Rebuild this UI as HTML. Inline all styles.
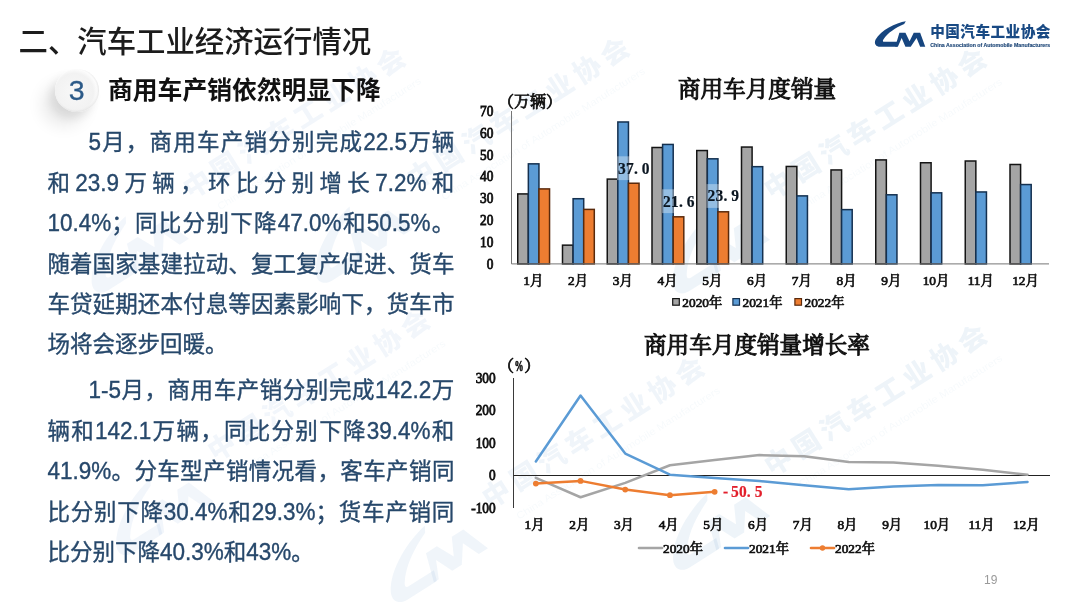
<!DOCTYPE html>
<html lang="zh-CN">
<head>
<meta charset="utf-8">
<title>二、汽车工业经济运行情况</title>
<style>
html,body{margin:0;padding:0;background:#fff;}
body{width:1080px;height:607px;overflow:hidden;position:relative;font-family:'Liberation Sans','Noto Sans CJK SC',sans-serif;}
.slide{position:absolute;left:0;top:0;width:1080px;height:607px;overflow:hidden;background:#fff;}
.charts{position:absolute;left:0;top:0;}
.logo{position:absolute;left:0;top:0;}
.wm{position:absolute;left:0;top:0;}
h1{position:absolute;left:18.5px;top:22.7px;margin:0;font-size:29.4px;line-height:38px;font-weight:500;color:#1c1c1c;white-space:nowrap;}
h2{position:absolute;left:108px;top:72px;margin:0;font-size:24.8px;line-height:38px;font-weight:700;color:#111;white-space:nowrap;}
.num{position:absolute;left:54.5px;top:68.5px;width:44.5px;height:43px;border-radius:50%;background:radial-gradient(circle at 44% 54%,#f8f8f8 0%,#f2f2f2 56%,#fcfcfc 68%,#ebebeb 86%,#dcdcdc 100%);box-shadow:-13px 14px 16px rgba(0,0,0,.085),-5px 6px 8px rgba(0,0,0,.075),inset -1px -1px 2px rgba(0,0,0,.07);color:#2c5a88;font-size:28.5px;line-height:42.5px;text-align:center;-webkit-text-stroke:0.3px #2c5a88;}
.para{position:absolute;left:47.4px;width:407px;margin:0;font-size:22.5px;line-height:40.45px;color:#27486b;-webkit-text-stroke:0.35px #27486b;}
.ln{display:block;white-space:nowrap;height:40.45px;}
.ln.j{text-align:justify;text-align-last:justify;}
.ln.ind{padding-left:41px;}
.d{display:inline-block;transform:scaleY(1.08);transform-origin:50% 71%;}
.pg{position:absolute;left:984px;top:573px;font-size:12px;line-height:14px;color:#9a9a9a;}
</style>
</head>
<body>
<div class="slide">
<svg class="wm" width="1080" height="607" viewBox="0 0 1080 607"><g transform="translate(390.4 61.6) rotate(-32.3) scale(2.17) translate(-1043 -31.5)" fill="#2a6db5" fill-opacity="0.06"><g transform="translate(-3.4 5.5)"><path d="M905.2,21.1 C895.5,22.6 880.5,29.5 875.6,38.6 C873.6,42.6 876,45.6 880.2,45.6 L896.3,45.6 L897.8,40.7 L884.2,40.7 C882.6,40.7 882.3,39.9 883.2,38.5 C887.5,32.2 895,27.6 903.6,23.9 Z"/><path d="M894.81,45.41 L898.89,32.07 L904.81,32.07 L908.89,40.22 L912.96,32.07 L919.26,32.07 L924.26,45.41 L919.26,45.41 L915.74,37.26 L910,45.41 L904.81,45.41 L901.11,37.26 L897.41,45.41Z"/></g><text x="931.3" y="36.2" font-family="'Liberation Sans','Noto Sans CJK SC',sans-serif" font-weight="900" font-size="12.6" textLength="118.1" lengthAdjust="spacing">中国汽车工业协会</text><text x="940" y="47.5" font-family="'Liberation Sans','Noto Sans CJK SC',sans-serif" font-weight="400" font-size="4.6" fill-opacity="0.035" textLength="110" lengthAdjust="spacingAndGlyphs">China Association of Automobile Manufacturers</text></g>
<g transform="translate(614.4 51.8) rotate(-32.3) scale(2.17) translate(-1043 -31.5)" fill="#2a6db5" fill-opacity="0.07"><g transform="translate(-3.4 5.5)"><path d="M905.2,21.1 C895.5,22.6 880.5,29.5 875.6,38.6 C873.6,42.6 876,45.6 880.2,45.6 L896.3,45.6 L897.8,40.7 L884.2,40.7 C882.6,40.7 882.3,39.9 883.2,38.5 C887.5,32.2 895,27.6 903.6,23.9 Z"/><path d="M894.81,45.41 L898.89,32.07 L904.81,32.07 L908.89,40.22 L912.96,32.07 L919.26,32.07 L924.26,45.41 L919.26,45.41 L915.74,37.26 L910,45.41 L904.81,45.41 L901.11,37.26 L897.41,45.41Z"/></g><text x="931.3" y="36.2" font-family="'Liberation Sans','Noto Sans CJK SC',sans-serif" font-weight="900" font-size="12.6" textLength="118.1" lengthAdjust="spacing">中国汽车工业协会</text><text x="940" y="47.5" font-family="'Liberation Sans','Noto Sans CJK SC',sans-serif" font-weight="400" font-size="4.6" fill-opacity="0.035" textLength="110" lengthAdjust="spacingAndGlyphs">China Association of Automobile Manufacturers</text></g>
<g transform="translate(971.5 62.4) rotate(-32.3) scale(2.17) translate(-1043 -31.5)" fill="#2a6db5" fill-opacity="0.08"><g transform="translate(-3.4 5.5)"><path d="M905.2,21.1 C895.5,22.6 880.5,29.5 875.6,38.6 C873.6,42.6 876,45.6 880.2,45.6 L896.3,45.6 L897.8,40.7 L884.2,40.7 C882.6,40.7 882.3,39.9 883.2,38.5 C887.5,32.2 895,27.6 903.6,23.9 Z"/><path d="M894.81,45.41 L898.89,32.07 L904.81,32.07 L908.89,40.22 L912.96,32.07 L919.26,32.07 L924.26,45.41 L919.26,45.41 L915.74,37.26 L910,45.41 L904.81,45.41 L901.11,37.26 L897.41,45.41Z"/></g><text x="931.3" y="36.2" font-family="'Liberation Sans','Noto Sans CJK SC',sans-serif" font-weight="900" font-size="12.6" textLength="118.1" lengthAdjust="spacing">中国汽车工业协会</text><text x="940" y="47.5" font-family="'Liberation Sans','Noto Sans CJK SC',sans-serif" font-weight="400" font-size="4.6" fill-opacity="0.035" textLength="110" lengthAdjust="spacingAndGlyphs">China Association of Automobile Manufacturers</text></g>
<g transform="translate(415 324) rotate(-32.3) scale(2.17) translate(-1043 -31.5)" fill="#2a6db5" fill-opacity="0.06"><g transform="translate(-3.4 5.5)"><path d="M905.2,21.1 C895.5,22.6 880.5,29.5 875.6,38.6 C873.6,42.6 876,45.6 880.2,45.6 L896.3,45.6 L897.8,40.7 L884.2,40.7 C882.6,40.7 882.3,39.9 883.2,38.5 C887.5,32.2 895,27.6 903.6,23.9 Z"/><path d="M894.81,45.41 L898.89,32.07 L904.81,32.07 L908.89,40.22 L912.96,32.07 L919.26,32.07 L924.26,45.41 L919.26,45.41 L915.74,37.26 L910,45.41 L904.81,45.41 L901.11,37.26 L897.41,45.41Z"/></g><text x="931.3" y="36.2" font-family="'Liberation Sans','Noto Sans CJK SC',sans-serif" font-weight="900" font-size="12.6" textLength="118.1" lengthAdjust="spacing">中国汽车工业协会</text><text x="940" y="47.5" font-family="'Liberation Sans','Noto Sans CJK SC',sans-serif" font-weight="400" font-size="4.6" fill-opacity="0.035" textLength="110" lengthAdjust="spacingAndGlyphs">China Association of Automobile Manufacturers</text></g>
<g transform="translate(689.5 371) rotate(-32.3) scale(2.17) translate(-1043 -31.5)" fill="#2a6db5" fill-opacity="0.07"><g transform="translate(-3.4 5.5)"><path d="M905.2,21.1 C895.5,22.6 880.5,29.5 875.6,38.6 C873.6,42.6 876,45.6 880.2,45.6 L896.3,45.6 L897.8,40.7 L884.2,40.7 C882.6,40.7 882.3,39.9 883.2,38.5 C887.5,32.2 895,27.6 903.6,23.9 Z"/><path d="M894.81,45.41 L898.89,32.07 L904.81,32.07 L908.89,40.22 L912.96,32.07 L919.26,32.07 L924.26,45.41 L919.26,45.41 L915.74,37.26 L910,45.41 L904.81,45.41 L901.11,37.26 L897.41,45.41Z"/></g><text x="931.3" y="36.2" font-family="'Liberation Sans','Noto Sans CJK SC',sans-serif" font-weight="900" font-size="12.6" textLength="118.1" lengthAdjust="spacing">中国汽车工业协会</text><text x="940" y="47.5" font-family="'Liberation Sans','Noto Sans CJK SC',sans-serif" font-weight="400" font-size="4.6" fill-opacity="0.035" textLength="110" lengthAdjust="spacingAndGlyphs">China Association of Automobile Manufacturers</text></g>
<g transform="translate(971.8 338.8) rotate(-32.3) scale(2.17) translate(-1043 -31.5)" fill="#2a6db5" fill-opacity="0.08"><g transform="translate(-3.4 5.5)"><path d="M905.2,21.1 C895.5,22.6 880.5,29.5 875.6,38.6 C873.6,42.6 876,45.6 880.2,45.6 L896.3,45.6 L897.8,40.7 L884.2,40.7 C882.6,40.7 882.3,39.9 883.2,38.5 C887.5,32.2 895,27.6 903.6,23.9 Z"/><path d="M894.81,45.41 L898.89,32.07 L904.81,32.07 L908.89,40.22 L912.96,32.07 L919.26,32.07 L924.26,45.41 L919.26,45.41 L915.74,37.26 L910,45.41 L904.81,45.41 L901.11,37.26 L897.41,45.41Z"/></g><text x="931.3" y="36.2" font-family="'Liberation Sans','Noto Sans CJK SC',sans-serif" font-weight="900" font-size="12.6" textLength="118.1" lengthAdjust="spacing">中国汽车工业协会</text><text x="940" y="47.5" font-family="'Liberation Sans','Noto Sans CJK SC',sans-serif" font-weight="400" font-size="4.6" fill-opacity="0.035" textLength="110" lengthAdjust="spacingAndGlyphs">China Association of Automobile Manufacturers</text></g></svg>
<h1>二、汽车工业经济运行情况</h1>
<div class="num">3</div>
<h2>商用车产销依然明显下降</h2>
<p class="para" style="top:123.2px">
<span class="ln ind j"><span class="d">5</span>月，商用车产销分别完成<span class="d">22.5</span>万辆</span>
<span class="ln j">和<span class="d">23.9</span>万辆，环比分别增长<span class="d">7.2%</span>和</span>
<span class="ln j"><span class="d">10.4%</span>；同比分别下降<span class="d">47.0%</span>和<span class="d">50.5%</span>。</span>
<span class="ln j">随着国家基建拉动、复工复产促进、货车</span>
<span class="ln j">车贷延期还本付息等因素影响下，货车市</span>
<span class="ln">场将会逐步回暖。</span>
</p>
<p class="para" style="top:371.2px">
<span class="ln ind j"><span class="d">1-5</span>月，商用车产销分别完成<span class="d">142.2</span>万</span>
<span class="ln j">辆和<span class="d">142.1</span>万辆，同比分别下降<span class="d">39.4%</span>和</span>
<span class="ln j"><span class="d">41.9%</span>。分车型产销情况看，客车产销同</span>
<span class="ln j">比分别下降<span class="d">30.4%</span>和<span class="d">29.3%</span>；货车产销同</span>
<span class="ln">比分别下降<span class="d">40.3%</span>和<span class="d">43%</span>。</span>
</p>
<svg class="charts" width="1080" height="607" viewBox="0 0 1080 607">
<g stroke-width="1.5">
<rect x="517.75" y="193.92" width="10.6" height="69.98" fill="#a5a5a5" stroke="#141414"/>
<rect x="528.35" y="163.84" width="10.6" height="100.06" fill="#5b9bd5" stroke="#14304f"/>
<rect x="538.95" y="188.91" width="10.6" height="74.99" fill="#ed7d31" stroke="#5a2a0c"/>
<rect x="562.5" y="245.15" width="10.6" height="18.75" fill="#a5a5a5" stroke="#141414"/>
<rect x="573.1" y="198.72" width="10.6" height="65.18" fill="#5b9bd5" stroke="#14304f"/>
<rect x="583.7" y="209.4" width="10.6" height="54.5" fill="#ed7d31" stroke="#5a2a0c"/>
<rect x="607.25" y="179.1" width="10.6" height="84.8" fill="#a5a5a5" stroke="#141414"/>
<rect x="617.85" y="121.98" width="10.6" height="141.92" fill="#5b9bd5" stroke="#14304f"/>
<rect x="628.45" y="183.24" width="10.6" height="80.66" fill="#ed7d31" stroke="#5a2a0c"/>
<rect x="652" y="147.49" width="10.6" height="116.41" fill="#a5a5a5" stroke="#141414"/>
<rect x="662.6" y="144.44" width="10.6" height="119.46" fill="#5b9bd5" stroke="#14304f"/>
<rect x="673.2" y="216.81" width="10.6" height="47.09" fill="#ed7d31" stroke="#5a2a0c"/>
<rect x="696.75" y="150.54" width="10.6" height="113.36" fill="#a5a5a5" stroke="#141414"/>
<rect x="707.35" y="158.82" width="10.6" height="105.08" fill="#5b9bd5" stroke="#14304f"/>
<rect x="717.95" y="211.8" width="10.6" height="52.1" fill="#ed7d31" stroke="#5a2a0c"/>
<rect x="741.5" y="147.05" width="10.6" height="116.85" fill="#a5a5a5" stroke="#141414"/>
<rect x="752.1" y="166.67" width="10.6" height="97.23" fill="#5b9bd5" stroke="#14304f"/>
<rect x="786.25" y="166.45" width="10.6" height="97.45" fill="#a5a5a5" stroke="#141414"/>
<rect x="796.85" y="195.88" width="10.6" height="68.02" fill="#5b9bd5" stroke="#14304f"/>
<rect x="831" y="169.94" width="10.6" height="93.96" fill="#a5a5a5" stroke="#141414"/>
<rect x="841.6" y="209.62" width="10.6" height="54.28" fill="#5b9bd5" stroke="#14304f"/>
<rect x="875.75" y="159.91" width="10.6" height="103.99" fill="#a5a5a5" stroke="#141414"/>
<rect x="886.35" y="194.79" width="10.6" height="69.11" fill="#5b9bd5" stroke="#14304f"/>
<rect x="920.5" y="162.75" width="10.6" height="101.15" fill="#a5a5a5" stroke="#141414"/>
<rect x="931.1" y="192.83" width="10.6" height="71.07" fill="#5b9bd5" stroke="#14304f"/>
<rect x="965.25" y="161" width="10.6" height="102.9" fill="#a5a5a5" stroke="#141414"/>
<rect x="975.85" y="191.96" width="10.6" height="71.94" fill="#5b9bd5" stroke="#14304f"/>
<rect x="1010" y="164.49" width="10.6" height="99.41" fill="#a5a5a5" stroke="#141414"/>
<rect x="1020.6" y="184.55" width="10.6" height="79.35" fill="#5b9bd5" stroke="#14304f"/>
</g>
<path d="M511.5 111 V263.9 H1049" fill="none" stroke="#767676" stroke-width="1"/>
<g font-family="'Liberation Serif','Noto Serif CJK SC',serif" font-weight="400" font-size="13.33" fill="#111" stroke="#111" stroke-width="0.85" text-anchor="end">
<text transform="translate(493.3 268.6) scale(0.9 1)" font-size="14.8">0</text>
<text transform="translate(493.3 246.8) scale(0.9 1)" font-size="14.8">10</text>
<text transform="translate(493.3 225) scale(0.9 1)" font-size="14.8">20</text>
<text transform="translate(493.3 203.2) scale(0.9 1)" font-size="14.8">30</text>
<text transform="translate(493.3 181.4) scale(0.9 1)" font-size="14.8">40</text>
<text transform="translate(493.3 159.6) scale(0.9 1)" font-size="14.8">50</text>
<text transform="translate(493.3 137.8) scale(0.9 1)" font-size="14.8">60</text>
<text transform="translate(493.3 116) scale(0.9 1)" font-size="14.8">70</text>
</g>
<text x="498" y="107.2" font-family="'Liberation Serif','Noto Serif CJK SC',serif" font-weight="400" font-size="16" fill="#111" stroke="#111" stroke-width="0.8">（万辆）</text>
<g font-family="'Liberation Serif','Noto Serif CJK SC',serif" font-weight="400" font-size="13.33" fill="#111" stroke="#111" stroke-width="0.7" text-anchor="middle">
<text x="533.27" y="284.8">1月</text>
<text x="578.02" y="284.8">2月</text>
<text x="622.77" y="284.8">3月</text>
<text x="667.52" y="284.8">4月</text>
<text x="712.27" y="284.8">5月</text>
<text x="757.02" y="284.8">6月</text>
<text x="801.77" y="284.8">7月</text>
<text x="846.52" y="284.8">8月</text>
<text x="891.27" y="284.8">9月</text>
<text x="936.02" y="284.8">10月</text>
<text x="980.77" y="284.8">11月</text>
<text x="1025.53" y="284.8">12月</text>
</g>
<text x="757" y="97" font-family="'Liberation Serif','Noto Serif CJK SC',serif" font-weight="400" font-size="22.6" fill="#111" stroke="#111" stroke-width="1" text-anchor="middle">商用车月度销量</text>
<rect x="617" y="156.3" width="32.8" height="23.8" fill="#fff" fill-opacity="0.35"/>
<text transform="translate(618 173.5) scale(0.9 1)" x="0 8.83 17.67 26.5" y="0" font-family="'Liberation Serif','Noto Serif CJK SC',serif" font-weight="700" font-size="17.2" fill="#0a1520" stroke="#0a1520" stroke-width="0.2">37.0</text>
<rect x="662" y="189.3" width="32.8" height="23.8" fill="#fff" fill-opacity="0.35"/>
<text transform="translate(663 206.5) scale(0.9 1)" x="0 8.83 17.67 26.5" y="0" font-family="'Liberation Serif','Noto Serif CJK SC',serif" font-weight="700" font-size="17.2" fill="#0a1520" stroke="#0a1520" stroke-width="0.2">21.6</text>
<rect x="706.5" y="184.1" width="32.8" height="23.8" fill="#fff" fill-opacity="0.35"/>
<text transform="translate(707.5 201.3) scale(0.9 1)" x="0 8.83 17.67 26.5" y="0" font-family="'Liberation Serif','Noto Serif CJK SC',serif" font-weight="700" font-size="17.2" fill="#0a1520" stroke="#0a1520" stroke-width="0.2">23.9</text>
<rect x="672.7" y="298.6" width="6.6" height="6.6" fill="#a5a5a5" stroke="#141414" stroke-width="1.2"/>
<text x="682.3" y="306.5" font-family="'Liberation Serif','Noto Serif CJK SC',serif" font-weight="400" font-size="13.33" fill="#111" stroke="#111" stroke-width="0.7">2020年</text>
<rect x="732.9" y="298.6" width="6.6" height="6.6" fill="#5b9bd5" stroke="#14304f" stroke-width="1.2"/>
<text x="742.5" y="306.5" font-family="'Liberation Serif','Noto Serif CJK SC',serif" font-weight="400" font-size="13.33" fill="#111" stroke="#111" stroke-width="0.7">2021年</text>
<rect x="794.9" y="298.6" width="6.6" height="6.6" fill="#ed7d31" stroke="#5a2a0c" stroke-width="1.2"/>
<text x="804.5" y="306.5" font-family="'Liberation Serif','Noto Serif CJK SC',serif" font-weight="400" font-size="13.33" fill="#111" stroke="#111" stroke-width="0.7">2022年</text>
<path d="M513.5 378 V508" fill="none" stroke="#3a3a3a" stroke-width="1"/>
<path d="M513.5 475.5 H1050" fill="none" stroke="#222" stroke-width="1"/>
<g fill="none" stroke-width="2.5" stroke-linejoin="round" stroke-linecap="round">
<polyline points="535.85,477.83 580.55,497.24 625.25,482.82 669.95,465.26 714.65,459.95 759.35,455.06 804.05,456.25 848.75,462.02 893.45,462.44 938.15,465.75 982.85,469.67 1027.55,474.72" stroke="#a5a5a5"/>
<polyline points="535.85,461.54 580.55,395.57 625.25,453.57 669.95,474.66 714.65,477.9 759.35,480.94 804.05,485.28 848.75,489.17 893.45,486.39 938.15,485.12 982.85,485.25 1027.55,482.01" stroke="#5b9bd5"/>
<polyline points="535.85,483.6 580.55,480.88 625.25,489.59 669.95,495.17 714.65,491.86" stroke="#ed7d31"/>
</g>
<circle cx="535.85" cy="483.6" r="2.9" fill="#ed7d31"/>
<circle cx="580.55" cy="480.88" r="2.9" fill="#ed7d31"/>
<circle cx="625.25" cy="489.59" r="2.9" fill="#ed7d31"/>
<circle cx="669.95" cy="495.17" r="2.9" fill="#ed7d31"/>
<circle cx="714.65" cy="491.86" r="2.9" fill="#ed7d31"/>
<g font-family="'Liberation Serif','Noto Serif CJK SC',serif" font-weight="400" font-size="13.33" fill="#111" stroke="#111" stroke-width="0.85" text-anchor="end">
<text transform="translate(495.6 512.6) scale(0.9 1)" font-size="14.8">-100</text>
<text transform="translate(495.6 480.2) scale(0.9 1)" font-size="14.8">0</text>
<text transform="translate(495.6 447.8) scale(0.9 1)" font-size="14.8">100</text>
<text transform="translate(495.6 415.4) scale(0.9 1)" font-size="14.8">200</text>
<text transform="translate(495.6 383) scale(0.9 1)" font-size="14.8">300</text>
</g>
<text x="498" y="371" font-family="'Liberation Serif','Noto Serif CJK SC',serif" font-weight="400" font-size="16" fill="#111" stroke="#111" stroke-width="0.8">（<tspan x="514.4" dy="-0.3" font-size="14.5" font-weight="700" stroke-width="0.7" textLength="9" lengthAdjust="spacingAndGlyphs">%</tspan><tspan x="524.3" dy="0.3">）</tspan></text>
<g font-family="'Liberation Serif','Noto Serif CJK SC',serif" font-weight="400" font-size="13.33" fill="#111" stroke="#111" stroke-width="0.7" text-anchor="middle">
<text x="534.55" y="529">1月</text>
<text x="579.25" y="529">2月</text>
<text x="623.95" y="529">3月</text>
<text x="668.65" y="529">4月</text>
<text x="713.35" y="529">5月</text>
<text x="758.05" y="529">6月</text>
<text x="802.75" y="529">7月</text>
<text x="847.45" y="529">8月</text>
<text x="892.15" y="529">9月</text>
<text x="936.85" y="529">10月</text>
<text x="981.55" y="529">11月</text>
<text x="1026.25" y="529">12月</text>
</g>
<text x="757" y="353" font-family="'Liberation Serif','Noto Serif CJK SC',serif" font-weight="400" font-size="22.6" fill="#111" stroke="#111" stroke-width="1" text-anchor="middle">商用车月度销量增长率</text>
<text transform="translate(723 497) scale(0.9 1)" x="0 8.83 17.67 26.5 35.33" y="0" font-family="'Liberation Serif','Noto Serif CJK SC',serif" font-weight="700" font-size="17.2" fill="#e21f2b" stroke="#e21f2b" stroke-width="0.2">-50.5</text>
<path d="M639 548 h23" stroke="#a5a5a5" stroke-width="2.6" stroke-linecap="round"/>
<text x="663" y="552.5" font-family="'Liberation Serif','Noto Serif CJK SC',serif" font-weight="400" font-size="13.33" fill="#111" stroke="#111" stroke-width="0.7">2020年</text>
<path d="M725 548 h23" stroke="#5b9bd5" stroke-width="2.6" stroke-linecap="round"/>
<text x="749" y="552.5" font-family="'Liberation Serif','Noto Serif CJK SC',serif" font-weight="400" font-size="13.33" fill="#111" stroke="#111" stroke-width="0.7">2021年</text>
<path d="M811 548 h23" stroke="#ed7d31" stroke-width="2.6" stroke-linecap="round"/>
<circle cx="822.5" cy="548" r="2.7" fill="#ed7d31"/>
<text x="835" y="552.5" font-family="'Liberation Serif','Noto Serif CJK SC',serif" font-weight="400" font-size="13.33" fill="#111" stroke="#111" stroke-width="0.7">2022年</text>
</svg>
<svg class="logo" width="1080" height="60" viewBox="0 0 1080 60"><g fill="#16457f" transform="translate(874.3 20.4) scale(1.02 1.05) translate(-874.3 -20.4)"><path d="M905.2,21.1 C895.5,22.6 880.5,29.5 875.6,38.6 C873.6,42.6 876,45.6 880.2,45.6 L896.3,45.6 L897.8,40.7 L884.2,40.7 C882.6,40.7 882.3,39.9 883.2,38.5 C887.5,32.2 895,27.6 903.6,23.9 Z"/><path d="M894.81,45.41 L898.89,32.07 L904.81,32.07 L908.89,40.22 L912.96,32.07 L919.26,32.07 L924.26,45.41 L919.26,45.41 L915.74,37.26 L910,45.41 L904.81,45.41 L901.11,37.26 L897.41,45.41Z"/></g><text x="930.2" y="37" font-family="'Liberation Sans','Noto Sans CJK SC',sans-serif" font-weight="900" font-size="14.6" fill="#194a84" textLength="120.2" lengthAdjust="spacing">中国汽车工业协会</text><text x="930.2" y="46.7" font-family="'Liberation Sans','Noto Sans CJK SC',sans-serif" font-weight="700" font-size="5.6" fill="#1d4677" stroke="#1d4677" stroke-width="0.15" textLength="120" lengthAdjust="spacingAndGlyphs">China Association of Automobile Manufacturers</text></svg>
<div class="pg">19</div>
</div>
</body>
</html>
